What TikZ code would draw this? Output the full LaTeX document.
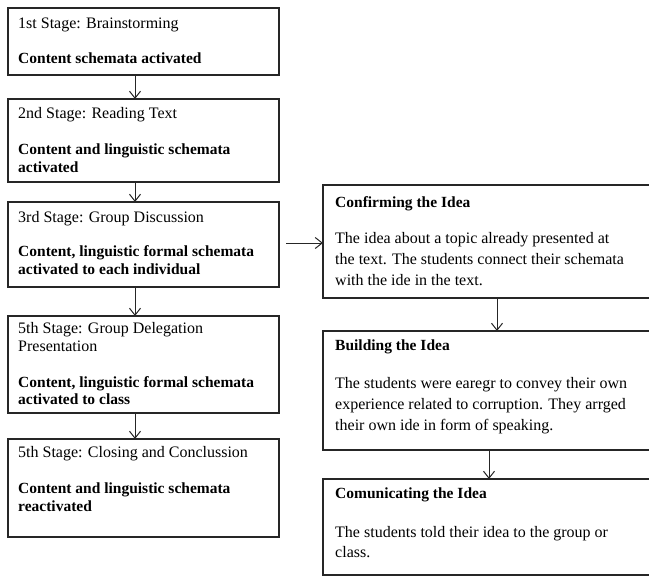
\documentclass[tikz,border=0pt]{standalone}
\usepackage{fontspec}
\setmainfont{Liberation Serif}
\usetikzlibrary{arrows.meta}
\newcommand\mytxt[4]{\node[lbl] (#1) at (#2,#3) {#4};}
\begin{document}
\begin{tikzpicture}[x=1pt,y=-1pt,
  box/.style={draw=black!85,line width=1.1pt,rectangle,inner sep=0pt,outer sep=0pt,anchor=north west},
  lbl/.style={anchor=base west,inner sep=0pt,font=\fontsize{16}{18}\selectfont},
  blbl/.style={lbl,font=\fontsize{15.5}{18}\selectfont\bfseries},
  arr/.style={draw=black!85,line width=1pt,-{Straight Barb[length=7pt,width=11pt]}}]
\useasboundingbox (0,0) rectangle (649,576);
\clip (0,0) rectangle (649,576);
% left boxes
\node[box,minimum width=271pt,minimum height=67pt] (b1) at (8,8) {};
\node[box,minimum width=271pt,minimum height=83pt] (b2) at (8,99) {};
\node[box,minimum width=271pt,minimum height=85pt] (b3) at (8,202) {};
\node[box,minimum width=271pt,minimum height=97pt] (b4) at (8,316) {};
\node[box,minimum width=271pt,minimum height=98pt] (b5) at (8,439) {};
% right boxes
\node[box,minimum width=340pt,minimum height=113pt] (r1) at (323,185) {};
\node[box,minimum width=340pt,minimum height=119pt] (r2) at (323,331) {};
\node[box,minimum width=340pt,minimum height=96pt] (r3) at (323,479) {};
% texts left
\mytxt{t1a}{18}{28}{1st Stage: Brainstorming}
\node[blbl] (t1b) at (18,63) {Content schemata activated};
\mytxt{t2a}{18}{118}{2nd Stage: Reading Text}
\node[blbl] (t2b) at (18,154) {Content and linguistic schemata};
\node[blbl] (t2c) at (18,172) {activated};
\mytxt{t3a}{18}{222}{3rd Stage: Group Discussion}
\node[blbl] (t3b) at (18,256) {Content, linguistic formal schemata};
\node[blbl] (t3c) at (18,274) {activated to each individual};
\mytxt{t4a}{18}{333}{5th Stage: Group Delegation}
\mytxt{t4b}{18}{351}{Presentation}
\node[blbl] (t4c) at (18,387) {Content, linguistic formal schemata};
\node[blbl] (t4d) at (18,404) {activated to class};
\mytxt{t5a}{18}{457}{5th Stage: Closing and Conclussion}
\node[blbl] (t5b) at (18,493) {Content and linguistic schemata};
\node[blbl] (t5c) at (18,511) {reactivated};
% texts right
\node[blbl] (u1a) at (335,207) {Confirming the Idea};
\mytxt{u1b}{335}{243}{The idea about a topic already presented at}
\mytxt{u1c}{335}{264}{the text. The students connect their schemata}
\mytxt{u1d}{335}{285}{with the ide in the text.}
\node[blbl] (u2a) at (335,350) {Building the Idea};
\mytxt{u2b}{335}{388}{The students were earegr to convey their own}
\mytxt{u2c}{335}{409}{experience related to corruption. They arrged}
\mytxt{u2d}{335}{430}{their own ide in form of speaking.}
\node[blbl] (u3a) at (335,498) {Comunicating the Idea};
\mytxt{u3b}{335}{537}{The students told their idea to the group or}
\mytxt{u3c}{335}{557}{class.}
% connectors
\coordinate (ax) at (135,0);
\coordinate (hs) at (286,243);
\coordinate (rx1) at (497,0);
\coordinate (rx2) at (489,0);
\draw[arr] (b1.south -| ax) -- (b2.north -| ax);
\draw[arr] (b2.south -| ax) -- (b3.north -| ax);
\draw[arr] (b3.south -| ax) -- (b4.north -| ax);
\draw[arr] (b4.south -| ax) -- (b5.north -| ax);
\draw[arr] (hs) -- (hs -| r1.west);
\draw[arr] (r1.south -| rx1) -- (r2.north -| rx1);
\draw[arr] (r2.south -| rx2) -- (r3.north -| rx2);
\end{tikzpicture}
\end{document}
